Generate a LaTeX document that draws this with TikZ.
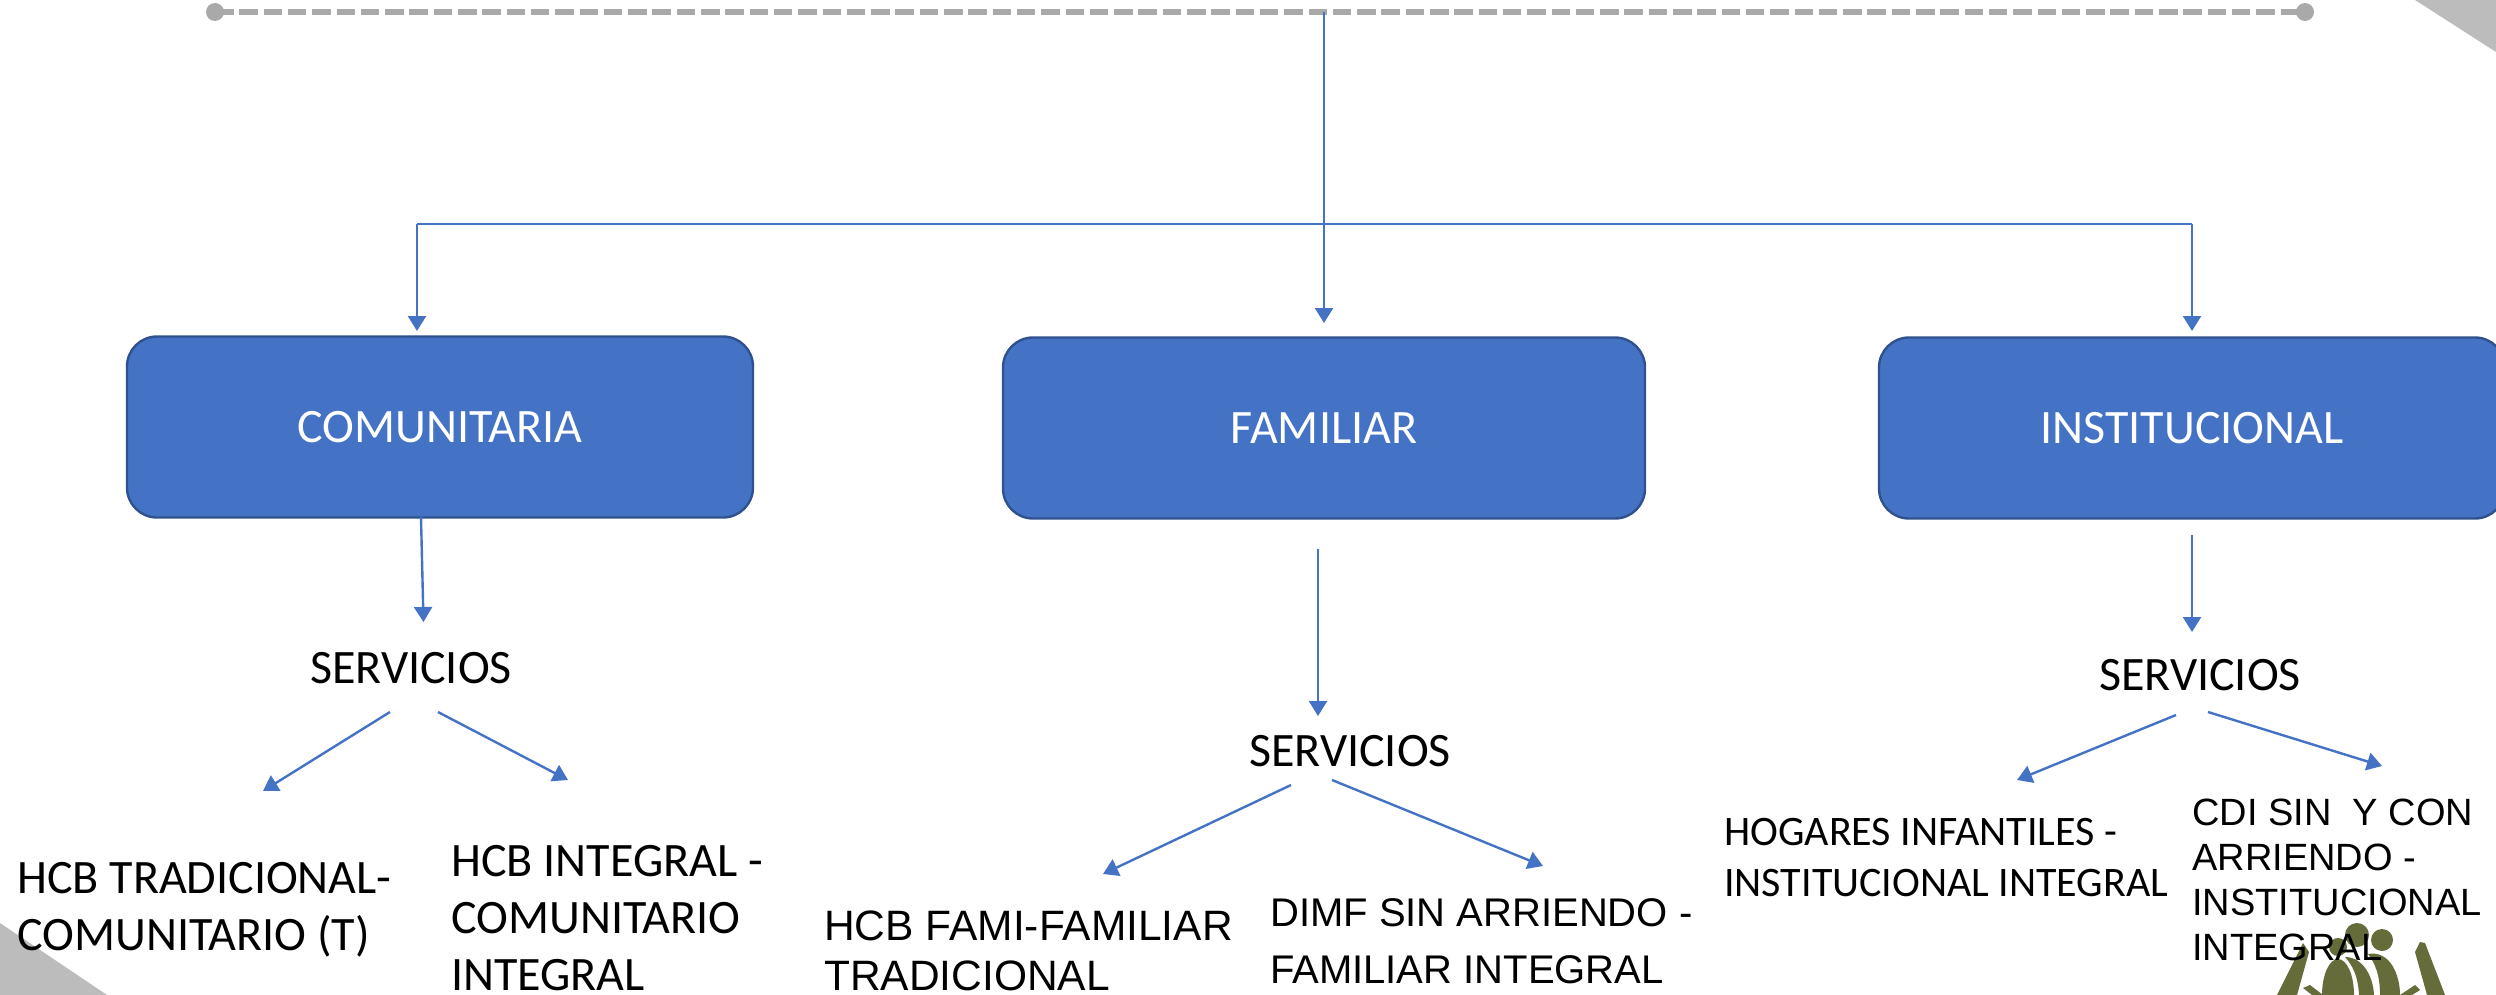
\documentclass[tikz,border=0pt]{standalone}
\usepackage{fontspec}
\setmainfont{Carlito}
\newfontfamily\arialf{Liberation Sans}
\usetikzlibrary{arrows.meta}
\definecolor{boxblue}{HTML}{4472C4}
\definecolor{boxedge}{HTML}{2F528F}
\definecolor{dashgray}{HTML}{A9A9A9}
\definecolor{cornergray}{HTML}{BDBCBD}
\definecolor{logoolive}{HTML}{666B3A}
\tikzset{
  x=1pt,y=-1pt,
  catbox/.style={draw=boxedge,fill=boxblue,line width=2.4pt,rounded corners=30pt,text=white,font=\fontsize{48}{56}\selectfont,inner sep=0pt,anchor=center},
  flow/.style={draw=boxblue,line width=2.4pt,-{Triangle[length=15pt,width=18pt]}},
  plainline/.style={draw=boxblue,line width=1.6pt},
  svc/.style={font=\fontsize{48}{56}\selectfont,inner sep=0pt,anchor=center},
  leafc/.style={font=\fontsize{48}{57}\selectfont,inner sep=0pt,anchor=west,align=left},
  leafa/.style={font=\arialf\fontsize{42.5}{50}\selectfont,inner sep=0pt,anchor=west,align=left},
  leafd/.style={font=\arialf\fontsize{40}{57}\selectfont,inner sep=0pt,anchor=west,align=left},
  leafb/.style={font=\arialf\fontsize{38}{45}\selectfont,inner sep=0pt,anchor=west,align=left},
  leafs/.style={font=\fontsize{42}{51}\selectfont,inner sep=0pt,anchor=west,align=left},
  dot/.style={circle,fill=dashgray,minimum size=18pt,inner sep=0pt},
}
\begin{document}
\begin{tikzpicture}
\useasboundingbox (0,0) rectangle (2496,995);
\fill[cornergray] (2415,0) -- (2496,52) -- (2496,0) -- cycle;
\fill[cornergray] (0,923) -- (107,995) -- (0,995) -- cycle;
% logo
\begin{scope}
\clip (2200,900) rectangle (2496,995);
\fill[logoolive] (2357,935) circle (12);
\fill[logoolive] (2382,940) circle (11);
\fill[logoolive] (2338,947) circle (9);
\fill[logoolive] (2277,995) -- (2303,943) -- (2309,952) -- (2297,995) -- cycle;
\fill[logoolive] (2415,952) -- (2420,942) -- (2425,943) -- (2445,995) -- (2427,995) -- cycle;
\fill[logoolive] (2338,995) ellipse (16 and 36);
\fill[logoolive] (2359,995) .. controls (2358,975) and (2352,965) .. (2345,957) .. controls (2362,957) and (2373,975) .. (2374,995) -- cycle;
\fill[logoolive] (2380,995) .. controls (2380,975) and (2375,963) .. (2368,954) .. controls (2390,950) and (2400,975) .. (2400,995) -- cycle;
\fill[logoolive] (2303,988) -- (2310,985) -- (2323,995) -- (2312,995) -- cycle;
\fill[logoolive] (2400,995) -- (2415,985) -- (2420,990) -- (2412,995) -- cycle;
\end{scope}
% boxes
\node[catbox,minimum width=626pt,minimum height=181pt] (comu) at (440,427) {\raisebox{-1.5pt}{COMUNITARIA}};
\node[catbox,minimum width=642pt,minimum height=181pt] (fami) at (1324,428) {\raisebox{-1.5pt}{FAMILIAR}};
\node[catbox,minimum width=626pt,minimum height=181pt,text width=626pt,align=center] (inst) at (2192,428) {\raisebox{-1.5pt}{INSTITUCIONAL}};
% text
\node[svc] (s1) at (411,668) {SERVICIOS};
\node[svc] (s2) at (1350,751) {SERVICIOS};
\node[svc] (s3) at (2200,675) {SERVICIOS};
\node[leafc] (l1) at (17,910) {HCB TRADICIONAL-\\COMUNITARIO (T)};
\node[leafc] (l2) at (451,918) {HCB INTEGRAL -\\COMUNITARIO\\INTEGRAL};
\node[leafa] (l3) at (824,951) {HCB FAMI-FAMILIAR\\TRADICIONAL};
\node[leafd] (l4) at (1270,941) {DIMF SIN ARRIENDO -\\FAMILIAR INTEGRAL};
\node[leafs] (l5) at (1724,858) {HOGARES INFANTILES -\\INSTITUCIONAL INTEGRAL};
\node[leafb] (l6) at (2192,880) {CDI SIN\ \ Y CON\\ARRIENDO -\\INSTITUCIONAL\\INTEGRAL};
% top rail
\node[dot] (railL) at (215,12) {};
\node[dot] (railR) at (2305,12) {};
\draw[dashgray,line width=6pt,dash pattern=on 18.5pt off 5.8pt] (railL.center) -- (railR.center);
% connectors
\coordinate (trunkT) at (1324,12);
\coordinate (busL) at (417,224);
\coordinate (busR) at (2192,224);
\coordinate (busC) at (1324,224);
\coordinate (inC) at (1324,323);
\coordinate (inL) at (417,331);
\coordinate (inR) at (2192,331);
\draw[plainline] (trunkT) -- (busC);
\draw[plainline] (busL) -- (busR);
\draw[flow] (busC) -- (inC);
\draw[flow] (busL) -- (inL);
\draw[flow] (busR) -- (inR);
\coordinate (a1) at (421,517); \coordinate (a1e) at (423.5,622);
\coordinate (a2) at (1318,549); \coordinate (a2e) at (1318,716);
\coordinate (a3) at (2192,535); \coordinate (a3e) at (2192,632);
\draw[flow] (a1) -- (a1e);
\draw[flow] (a2) -- (a2e);
\draw[flow] (a3) -- (a3e);
\coordinate (d1) at (390,712); \coordinate (d1e) at (263,791);
\coordinate (d2) at (438,712); \coordinate (d2e) at (568,780);
\coordinate (d3) at (1291,785); \coordinate (d3e) at (1103,874);
\coordinate (d4) at (1332,780); \coordinate (d4e) at (1543,866);
\coordinate (d5) at (2176,715); \coordinate (d5e) at (2017,780);
\coordinate (d6) at (2208,712); \coordinate (d6e) at (2382,766);
\foreach \p/\q in {d1/d1e,d2/d2e,d3/d3e,d4/d4e,d5/d5e,d6/d6e}
  \draw[flow] (\p) -- (\q);
\end{tikzpicture}
\end{document}
